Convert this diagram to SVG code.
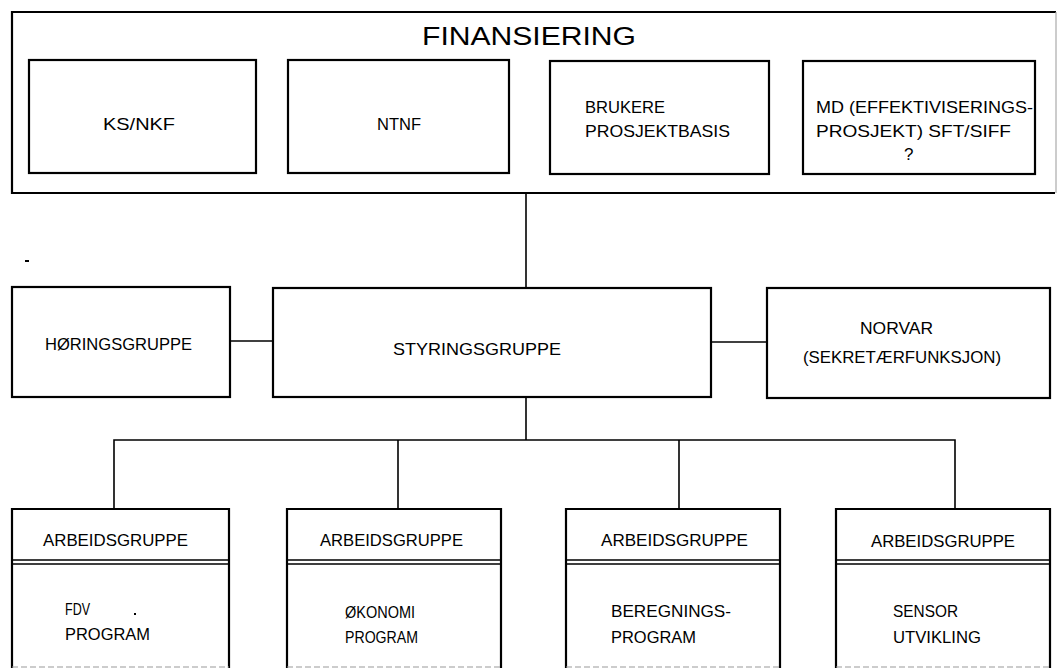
<svg xmlns="http://www.w3.org/2000/svg" width="1058" height="669" viewBox="0 0 1058 669">
<style>
.box{fill:none;stroke:#000;stroke-width:2.2}
.thin{fill:none;stroke:#000;stroke-width:1.4}
.faint{fill:none;stroke:#999;stroke-width:1.2;stroke-dasharray:6 3}
.edge{fill:none;stroke:#aaa;stroke-width:1.2}
.con{fill:none;stroke:#000;stroke-width:1.6}
.t{font-family:"Liberation Sans",Arial,sans-serif;font-size:17px;fill:#000}
.big{font-family:"Liberation Sans",Arial,sans-serif;font-size:25px;fill:#000}
</style>
<rect width="1058" height="669" fill="#fff"/>
<g id="finansiering">
<path class="box" d="M1055 193 H12 V12 H1056"/>
<path class="edge" d="M1056 12 V193"/>
<text class="big" x="422" y="45" textLength="214" lengthAdjust="spacingAndGlyphs">FINANSIERING</text>
</g>
<g id="ks-nkf">
<rect class="box" x="29" y="60" width="227" height="113"/>
<text class="t" x="103" y="130" textLength="72" lengthAdjust="spacingAndGlyphs">KS/NKF</text>
</g>
<g id="ntnf">
<rect class="box" x="288" y="60" width="221" height="113"/>
<text class="t" x="377" y="130" textLength="44" lengthAdjust="spacingAndGlyphs">NTNF</text>
</g>
<g id="brukere">
<rect class="box" x="550" y="61" width="219" height="113"/>
<text class="t" x="585" y="113" textLength="80" lengthAdjust="spacingAndGlyphs">BRUKERE</text>
<text class="t" x="585" y="137" textLength="145" lengthAdjust="spacingAndGlyphs">PROSJEKTBASIS</text>
</g>
<g id="md">
<rect class="box" x="803" y="61" width="232" height="113"/>
<text class="t" x="816" y="113" textLength="217" lengthAdjust="spacingAndGlyphs">MD (EFFEKTIVISERINGS-</text>
<text class="t" x="816" y="137" textLength="195" lengthAdjust="spacingAndGlyphs">PROSJEKT) SFT/SIFF</text>
<text class="t" x="904" y="160">?</text>
</g>
<g id="horingsgruppe">
<rect class="box" x="12" y="287" width="218" height="110"/>
<text class="t" x="45" y="350" textLength="147" lengthAdjust="spacingAndGlyphs">HØRINGSGRUPPE</text>
</g>
<g id="styringsgruppe">
<rect class="box" x="273" y="288" width="438" height="109"/>
<text class="t" x="393" y="355" textLength="168" lengthAdjust="spacingAndGlyphs">STYRINGSGRUPPE</text>
</g>
<g id="norvar">
<rect class="box" x="767" y="288" width="283" height="110"/>
<text class="t" x="860" y="334" textLength="73" lengthAdjust="spacingAndGlyphs">NORVAR</text>
<text class="t" x="803" y="363" textLength="198" lengthAdjust="spacingAndGlyphs">(SEKRETÆRFUNKSJON)</text>
</g>
<g id="arbeid-fdv">
<path class="box" d="M12 668 V509 H229 V668"/>
<path class="faint" d="M12 667 H229"/>
<path class="thin" d="M12 560 H229 M12 564 H229"/>
<text class="t" x="43" y="546" textLength="145" lengthAdjust="spacingAndGlyphs">ARBEIDSGRUPPE</text>
<text class="t" x="65" y="615" textLength="25" lengthAdjust="spacingAndGlyphs">FDV</text>
<text class="t" x="65" y="640" textLength="85" lengthAdjust="spacingAndGlyphs">PROGRAM</text>
<rect x="134" y="613" width="2" height="2" fill="#000"/>
</g>
<g id="arbeid-okonomi">
<path class="box" d="M287 668 V509 H501 V668"/>
<path class="faint" d="M287 667 H501"/>
<path class="thin" d="M287 560 H501 M287 564 H501"/>
<text class="t" x="320" y="546" textLength="143" lengthAdjust="spacingAndGlyphs">ARBEIDSGRUPPE</text>
<text class="t" x="345" y="618" textLength="70" lengthAdjust="spacingAndGlyphs">ØKONOMI</text>
<text class="t" x="345" y="643" textLength="73" lengthAdjust="spacingAndGlyphs">PROGRAM</text>
</g>
<g id="arbeid-beregning">
<path class="box" d="M566 668 V509 H780 V668"/>
<path class="faint" d="M566 667 H780"/>
<path class="thin" d="M566 560 H780 M566 564 H780"/>
<text class="t" x="601" y="546" textLength="147" lengthAdjust="spacingAndGlyphs">ARBEIDSGRUPPE</text>
<text class="t" x="611" y="617" textLength="120" lengthAdjust="spacingAndGlyphs">BEREGNINGS-</text>
<text class="t" x="611" y="643" textLength="85" lengthAdjust="spacingAndGlyphs">PROGRAM</text>
</g>
<g id="arbeid-sensor">
<path class="box" d="M836 668 V509 H1050 V668"/>
<path class="faint" d="M836 667 H1050"/>
<path class="thin" d="M836 560 H1050 M836 564 H1050"/>
<text class="t" x="871" y="547" textLength="144" lengthAdjust="spacingAndGlyphs">ARBEIDSGRUPPE</text>
<text class="t" x="893" y="617" textLength="65" lengthAdjust="spacingAndGlyphs">SENSOR</text>
<text class="t" x="893" y="643" textLength="88" lengthAdjust="spacingAndGlyphs">UTVIKLING</text>
</g>
<g id="connectors">
<path class="con" d="M526 193 V288"/>
<path class="con" d="M230 341 H273"/>
<path class="con" d="M711 342 H767" stroke-width="2"/>
<path class="con" d="M526 397 V440"/>
<path class="con" d="M114 509 V440 H955 V509"/>
<path class="con" d="M398 440 V509"/>
<path class="con" d="M679 440 V509"/>
</g>
<rect x="25" y="260" width="4" height="2" fill="#000"/>
</svg>
